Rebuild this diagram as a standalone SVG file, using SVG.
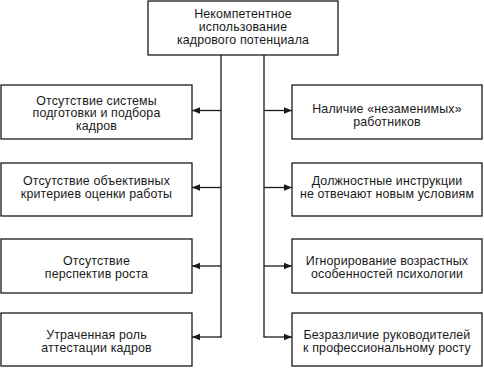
<svg xmlns="http://www.w3.org/2000/svg" width="484" height="368" viewBox="0 0 484 368">
<style>
.box{fill:#fff;stroke:#1a1a1a;stroke-width:1.3}
.t{font-family:"Liberation Sans",Arial,sans-serif;font-size:12.4px;letter-spacing:0.15px;fill:#1a1a1a;text-anchor:middle}
.c{fill:none;stroke:#1a1a1a;stroke-width:1.3}
</style>
<defs>
<marker id="ah" markerUnits="userSpaceOnUse" markerWidth="10" markerHeight="8" refX="8" refY="4" orient="auto">
<path d="M0,0.8 L8,4 L0,7.2 Z" fill="#1a1a1a"/>
</marker>
</defs>
<rect width="484" height="368" fill="#fff"/>
<g id="connectors">
<path class="c" d="M221,55 V337"/>
<path class="c" d="M264,55 V337"/>
<path class="c" d="M221,110.5 H192" marker-end="url(#ah)"/>
<path class="c" d="M221,187.5 H192" marker-end="url(#ah)"/>
<path class="c" d="M221,266 H192" marker-end="url(#ah)"/>
<path class="c" d="M221.65,337 H192" marker-end="url(#ah)"/>
<path class="c" d="M264,110.5 H292" marker-end="url(#ah)"/>
<path class="c" d="M264,187.5 H292" marker-end="url(#ah)"/>
<path class="c" d="M264,266 H292" marker-end="url(#ah)"/>
<path class="c" d="M263.35,337 H292" marker-end="url(#ah)"/>
</g>
<g id="top">
<rect class="box" x="148" y="1" width="190" height="54"/>
<text class="t" x="243" y="17.5">Некомпетентное</text>
<text class="t" x="243" y="30.5">использование</text>
<text class="t" x="243" y="43.5">кадрового потенциала</text>
</g>
<g id="l1">
<rect class="box" x="1" y="85" width="191" height="54"/>
<text class="t" x="96.5" y="104.5">Отсутствие системы</text>
<text class="t" x="96.5" y="117.3">подготовки и подбора</text>
<text class="t" x="96.5" y="130">кадров</text>
</g>
<g id="l2">
<rect class="box" x="1" y="163" width="191" height="53"/>
<text class="t" x="96.5" y="185">Отсутствие объективных</text>
<text class="t" x="96.5" y="198">критериев оценки работы</text>
</g>
<g id="l3">
<rect class="box" x="1" y="239" width="191" height="54"/>
<text class="t" x="96.5" y="264.5">Отсутствие</text>
<text class="t" x="96.5" y="277.5">перспектив роста</text>
</g>
<g id="l4">
<rect class="box" x="1" y="313" width="191" height="53"/>
<text class="t" x="96.5" y="338.5">Утраченная роль</text>
<text class="t" x="96.5" y="351.5">аттестации кадров</text>
</g>
<g id="r1">
<rect class="box" x="292" y="85" width="190" height="54"/>
<text class="t" x="387" y="112.5">Наличие «незаменимых»</text>
<text class="t" x="387" y="125.5">работников</text>
</g>
<g id="r2">
<rect class="box" x="292" y="163" width="190" height="53"/>
<text class="t" x="387" y="185">Должностные инструкции</text>
<text class="t" x="387" y="198">не отвечают новым условиям</text>
</g>
<g id="r3">
<rect class="box" x="292" y="239" width="190" height="54"/>
<text class="t" x="387" y="265">Игнорирование возрастных</text>
<text class="t" x="387" y="278">особенностей психологии</text>
</g>
<g id="r4">
<rect class="box" x="292" y="313" width="190" height="53"/>
<text class="t" x="387" y="339">Безразличие руководителей</text>
<text class="t" x="387" y="352">к профессиональному росту</text>
</g>
</svg>
